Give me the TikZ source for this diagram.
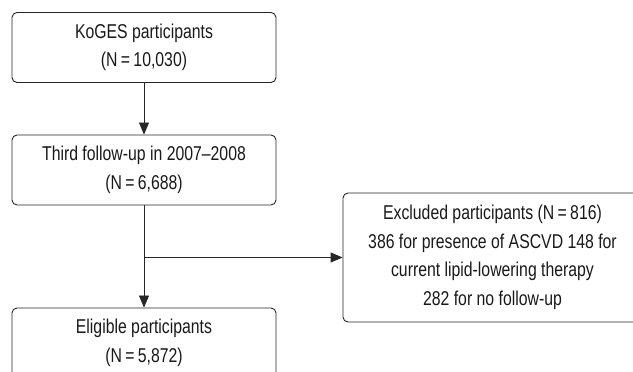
\documentclass[tikz,border=0pt]{standalone}
\usepackage{fontspec}
\setmainfont{Liberation Sans}[FakeStretch=0.79]
\usetikzlibrary{arrows.meta}

\begin{document}
\begin{tikzpicture}[x=1pt,y=1pt]
 \newcommand{\stageW}{264pt}
	\tikzset{stage/.style = {draw=black!85,line width=0.9pt,rounded corners=5pt,minimum width=\stageW,minimum height=70pt,align=center,inner sep=0pt,text=black!90,font=\fontsize{20}{28.5}\selectfont}}
	\tikzstyle{edge} = [-{Triangle[length=12pt,width=10pt]},line width=0.9pt,draw=black!85]
	\useasboundingbox (0,0) rectangle (633,372);
	%cohort
	\node[stage] (koges) at (144,324.5) {KoGES participants\\(N\,=\,10,030)};
	\node[stage] (third) at (144,202) {Third follow-up in 2007--2008\\(N\,=\,6,688)};
	\node[stage] (elig) at (144,29) {Eligible participants\\(N\,=\,5,872)};
	%exclusions
	\node[stage,minimum width=299pt,minimum height=129pt] (excl) at (492.5,114.5)
		{Excluded participants (N\,=\,816)\\386 for presence of ASCVD 148 for\\current lipid-lowering therapy\\282 for no follow-up};
	\coordinate (split) at (144,114.5);
	%flow
	\draw[edge] (koges) to (third);
	\draw[edge] (third) to (elig);
	\draw[edge] (split) to (excl.west);
\end{tikzpicture}
\end{document}
